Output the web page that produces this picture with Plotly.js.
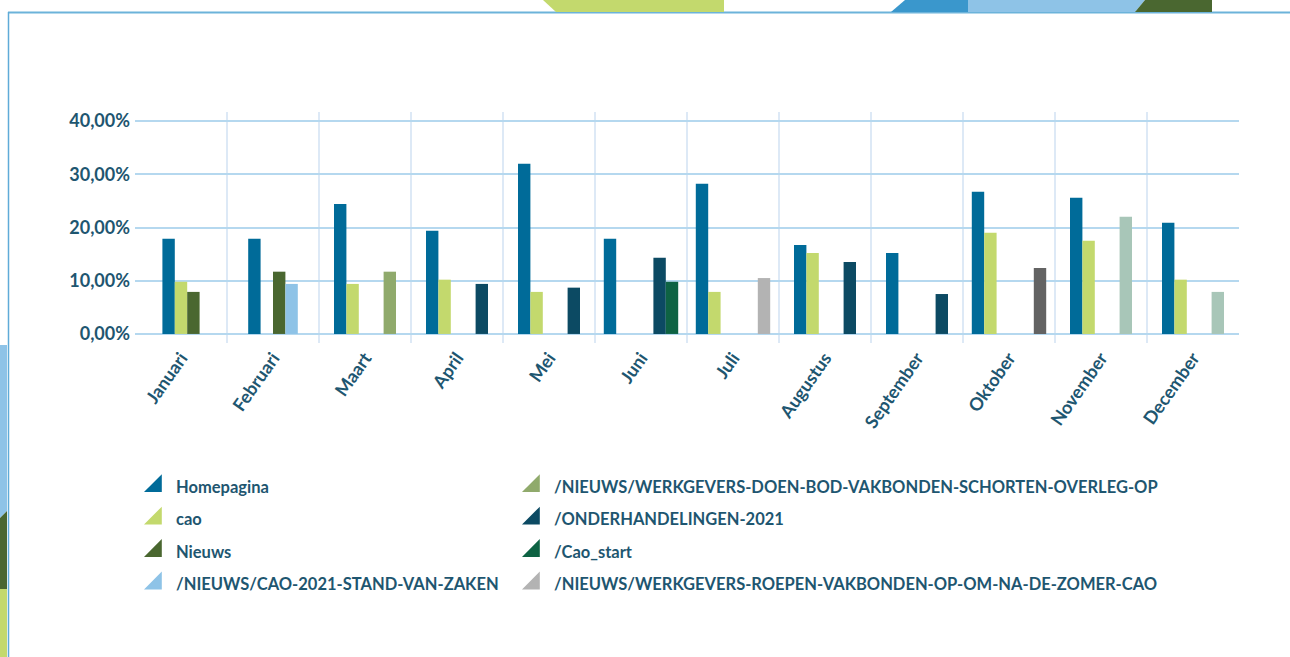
<!DOCTYPE html>
<html>
<head>
<meta charset="utf-8">
<script src="https://cdn.plot.ly/plotly-3.0.1.min.js"></script>
<style>
  html, body { margin: 0; padding: 0; background: #ffffff; }
  #chart { width: 1290px; height: 657px; }
</style>
</head>
<body>
<div id="chart"></div>
<script>
// ---- Data (percentages) ----
const months = ['Januari', 'Februari', 'Maart', 'April', 'Mei', 'Juni', 'Juli', 'Augustus', 'September', 'Oktober', 'November', 'December'];

// null = page not in that month's data; 0 = page present with 0%
const homepagina   = [17.9, 17.9, 24.4, 19.4, 32.0, 17.9, 28.2, 16.7, 15.2, 26.7, 25.6, 20.9];
const cao          = [9.8, 0, 9.4, 10.2, 7.9, 0, 7.9, 15.2, 0, 19.0, 17.5, 10.2];
const nieuws       = [7.9, 11.7, 0, 0, 0, 0, 0, 0, 0, 0, 0, 0];
const caoStand     = [null, 9.4, 0, 0, 0, 0, 0, 0, 0, 0, 0, 0];
const doenBod      = [null, null, 11.7, null, null, null, null, null, null, null, null, null];
const onderhand    = [null, null, null, 9.4, 8.7, 14.3, 0, 13.5, 7.5, 0, null, null];
const caoStart     = [null, null, null, null, null, 9.8, null, null, null, null, null, null];
const roepen       = [null, null, null, null, null, null, 10.5, null, null, null, null, null];
const overigOkt    = [null, null, null, null, null, null, null, null, null, 12.4, null, null];
const overigNovDec = [null, null, null, null, null, null, null, null, null, null, 22.0, 7.9];

const yTickVals   = [0, 10, 20, 30, 40];
const yTickLabels = ['0,00%', '10,00%', '20,00%', '30,00%', '40,00%'];

const seriesNames = [
  'Homepagina',
  'cao',
  'Nieuws',
  '/NIEUWS/CAO-2021-STAND-VAN-ZAKEN',
  '/NIEUWS/WERKGEVERS-DOEN-BOD-VAKBONDEN-SCHORTEN-OVERLEG-OP',
  '/ONDERHANDELINGEN-2021',
  '/Cao_start',
  '/NIEUWS/WERKGEVERS-ROEPEN-VAKBONDEN-OP-OM-NA-DE-ZOMER-CAO',
  'Overig (oktober)',
  'Overig (november-december)'
];
const seriesValues = [homepagina, cao, nieuws, caoStand, doenBod, onderhand, caoStart, roepen, overigOkt, overigNovDec];
const seriesColors = ['#006b99', '#c3d96d', '#4a6730', '#8ec3e7', '#90aa6c', '#0c4a63', '#0e6343', '#b3b3b3', '#636363', '#a8c6b8'];
const inLegend     = [true, true, true, true, true, true, true, true, false, false];

// ---- Layout geometry (pixels) ----
const PW = 1290, PH = 657;
const L = 135, R = 51, T = 112, B = 314;
const plotW = PW - L - R, plotH = PH - T - B;
const X = px => (px - L) / plotW;
const Y = py => (PH - B - py) / plotH;

// bars present in a month are packed side by side around the category centre
const BAR_W = 0.1348;
const offsets = seriesValues.map(() => months.map(() => 0));
months.forEach((m, i) => {
  const present = [];
  seriesValues.forEach((vals, s) => { if (vals[i] !== null) present.push(s); });
  const n = present.length;
  present.forEach((s, k) => { offsets[s][i] = (k - n / 2) * BAR_W; });
});

const textColor = '#1e5670';
const FONT = 'Lato, sans-serif';
const traces = [];
seriesValues.forEach((vals, s) => {
  traces.push({
    type: 'bar',
    name: seriesNames[s],
    x: months,
    y: vals,
    width: BAR_W,
    offset: offsets[s],
    marker: { color: seriesColors[s], line: { width: 0 } },
    showlegend: false,
    hovertemplate: '%{x}: %{y:.2f}%<extra>' + seriesNames[s] + '</extra>'
  });
});
// legend entries (triangle keys), two columns
seriesNames.forEach((nm, s) => {
  if (!inLegend[s]) return;
  traces.push({
    type: 'scatter',
    mode: 'markers',
    name: nm,
    x: [null], y: [null],
    marker: { symbol: 'triangle-se', size: 16, color: seriesColors[s], line: { color: seriesColors[s], width: 2 } },
    legend: s < 4 ? 'legend' : 'legend2',
    legendgroup: 'g' + s,
    showlegend: true,
    hoverinfo: 'skip'
  });
});

const deco = (pts, color) => ({
  type: 'path', xref: 'paper', yref: 'paper', layer: 'above',
  path: 'M ' + pts.map(p => X(p[0]) + ',' + Y(p[1])).join(' L ') + ' Z',
  fillcolor: color, line: { width: 0 }
});

const legendCommon = {
  orientation: 'v',
  traceorder: 'grouped',
  tracegroupgap: 8,
  bgcolor: 'rgba(0,0,0,0)',
  borderwidth: 0,
  font: { family: FONT, size: 16.5, color: textColor, weight: 'bold' },
  itemclick: false, itemdoubleclick: false,
  xanchor: 'left', yanchor: 'top'
};

const layout = {
  width: PW, height: PH, autosize: false,
  margin: { l: L, r: R, t: T, b: B, pad: 0 },
  paper_bgcolor: '#ffffff', plot_bgcolor: '#ffffff',
  barmode: 'overlay',
  font: { family: FONT, color: textColor, weight: 'bold' },
  xaxis: {
    type: 'category',
    range: [-0.5, 11.5],
    tickson: 'boundaries',
    showgrid: true, gridcolor: '#dde9f6', gridwidth: 2,
    showline: false, zeroline: false, ticks: '',
    tickangle: -55,
    tickfont: { family: FONT, size: 18, color: textColor, weight: 'bold' }
  },
  yaxis: {
    range: [-1.7, 41.7],
    tickvals: yTickVals,
    ticktext: yTickLabels,
    showgrid: true, gridcolor: '#b5d8ef', gridwidth: 2,
    zeroline: false, showline: false, ticks: '',
    ticklabelstandoff: 4,
    tickfont: { family: FONT, size: 18, color: textColor, weight: 'bold' }
  },
  legend: Object.assign({}, legendCommon, { x: X(136), y: Y(469) }),
  legend2: Object.assign({}, legendCommon, { x: X(514), y: Y(469) }),
  shapes: [
    // frame lines
    { type: 'line', xref: 'paper', yref: 'paper', x0: X(8), x1: X(1290), y0: Y(12.5), y1: Y(12.5), line: { color: '#6cb3da', width: 2 } },
    { type: 'line', xref: 'paper', yref: 'paper', x0: X(8.5), x1: X(8.5), y0: Y(12), y1: Y(657), line: { color: '#5fabd8', width: 1.5 } },
    // top decorations
    deco([[543, 0], [724, 0], [724, 12], [556, 12]], '#c3d96d'),
    deco([[905, 0], [968, 0], [968, 12], [891, 12]], '#3a97cc'),
    deco([[968, 0], [1145, 0], [1135, 12], [968, 12]], '#8ec3e7'),
    deco([[1145, 0], [1212, 0], [1212, 12], [1135, 12]], '#4a6730'),
    // left strip
    deco([[0, 345], [7, 345], [7, 511], [0, 518]], '#8ec3e7'),
    deco([[0, 518], [7, 511], [7, 589], [0, 589]], '#4a6730'),
    deco([[0, 589], [7, 589], [7, 657], [0, 657]], '#c3d96d')
  ]
};

Plotly.newPlot('chart', traces, layout, { displayModeBar: false, staticPlot: true });
</script>
</body>
</html>
